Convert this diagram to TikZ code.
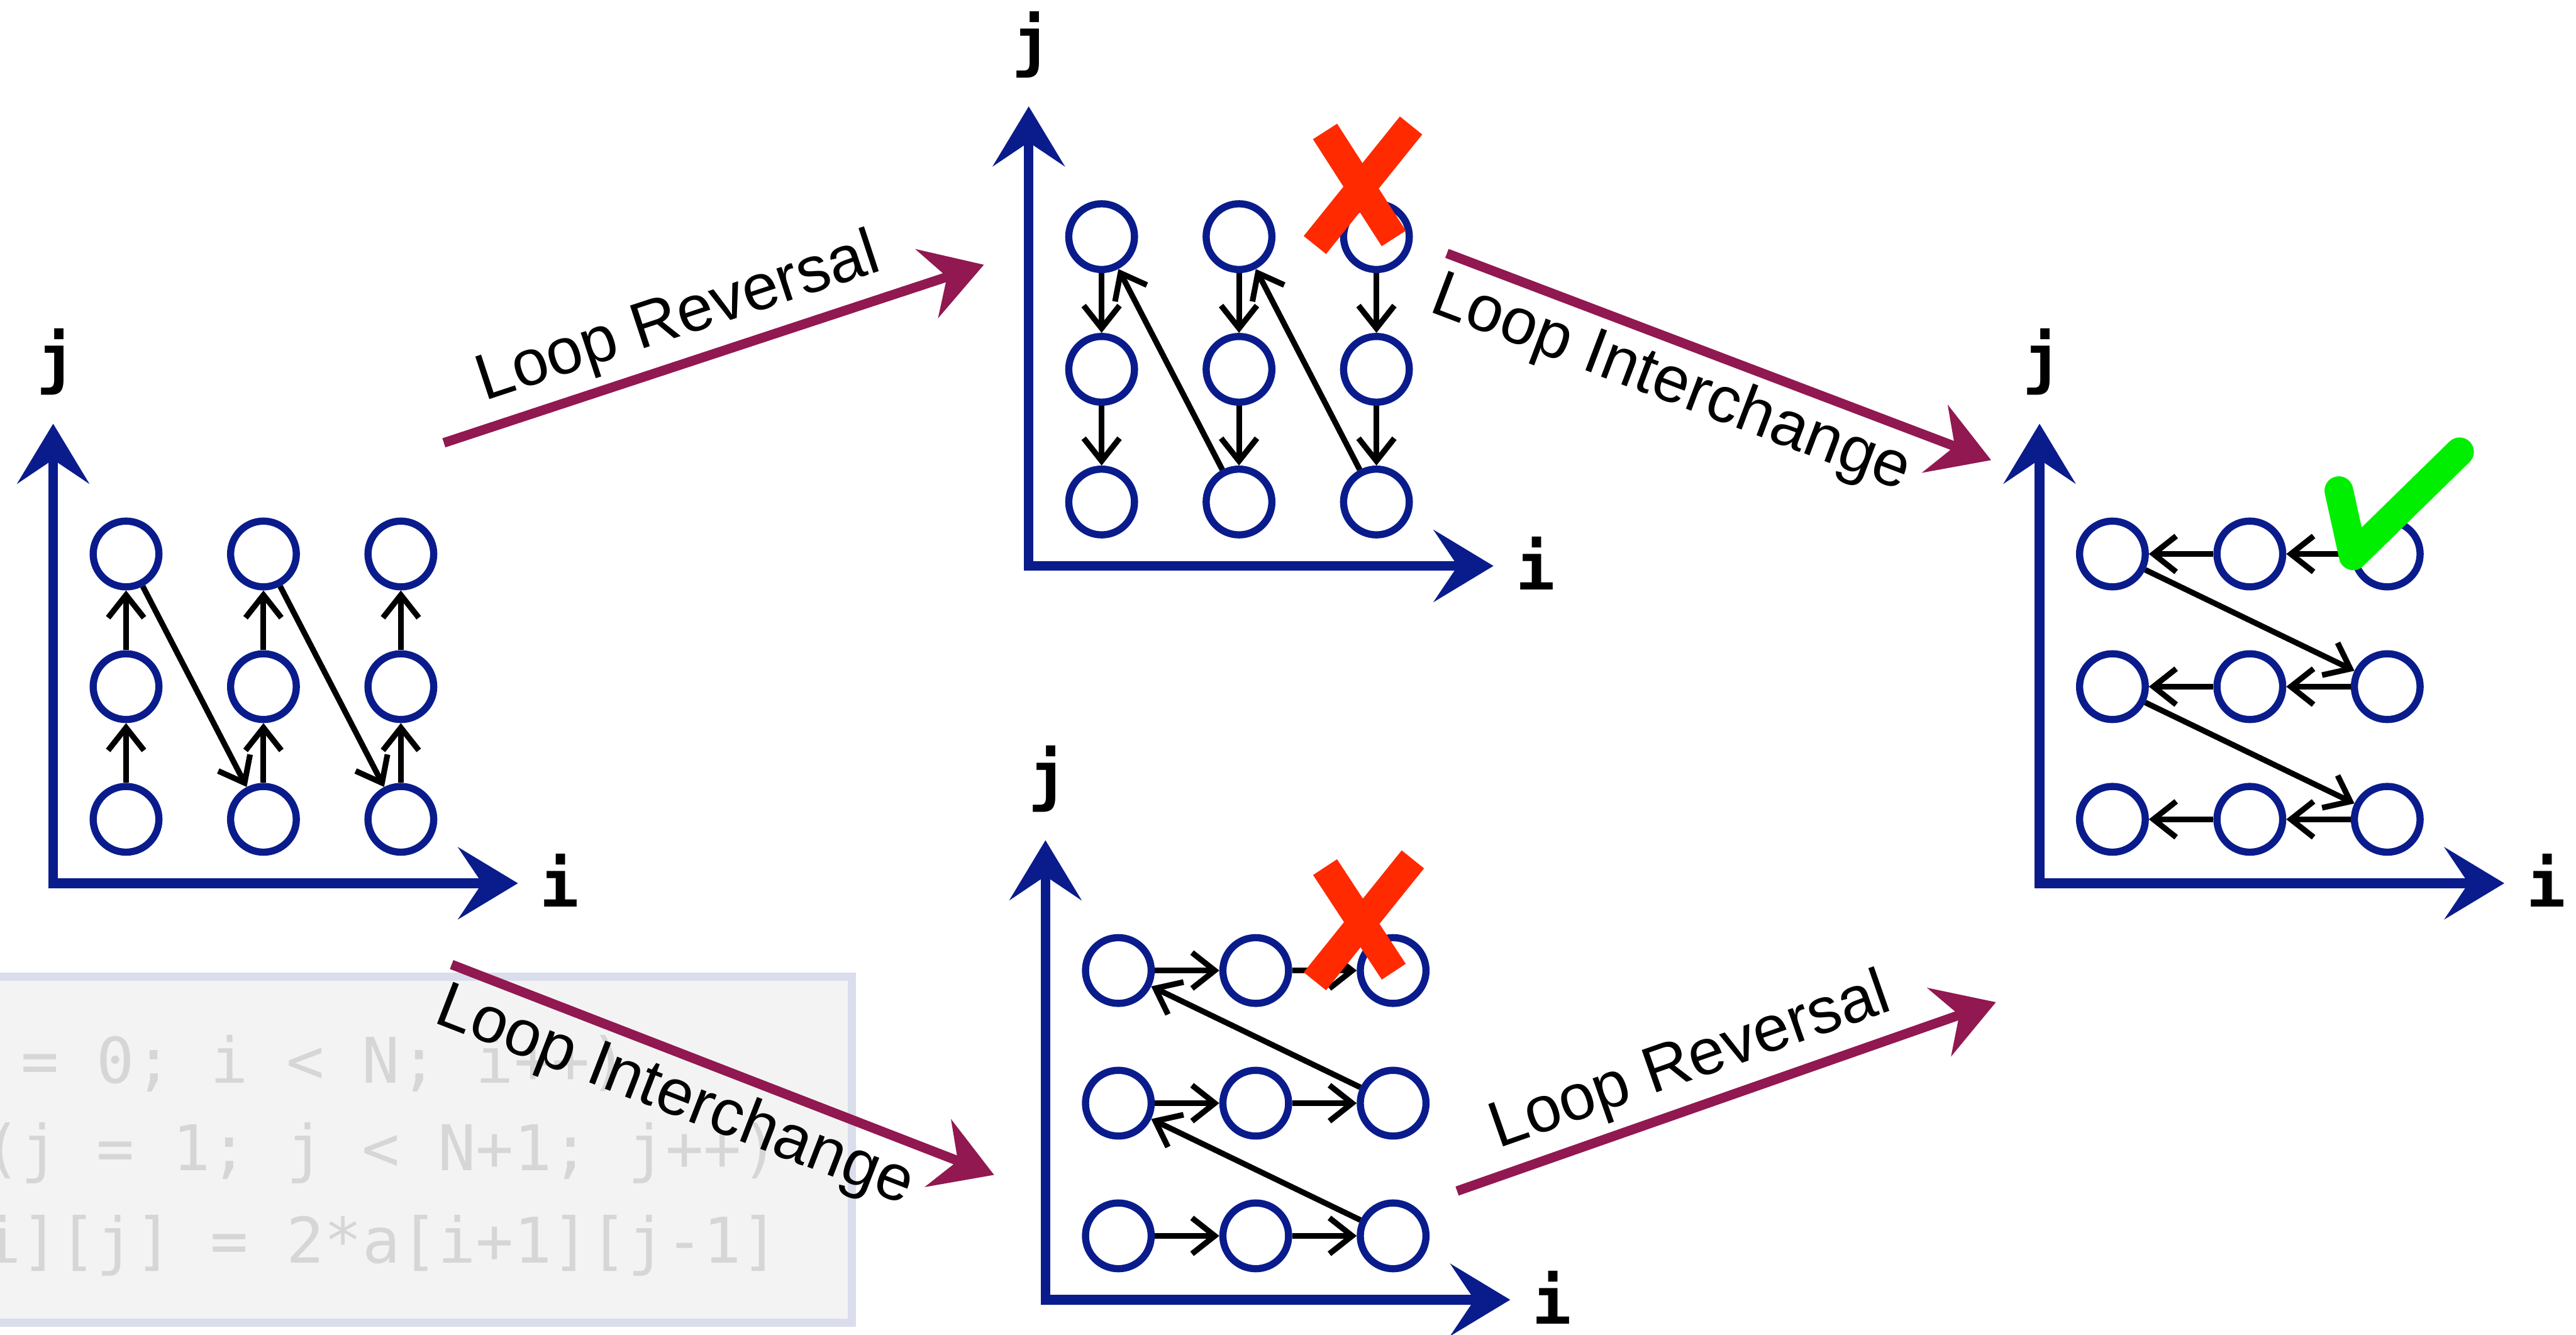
\documentclass[tikz,border=0pt]{standalone}
\usepackage{fontspec}
\setmainfont{Liberation Sans}
\newfontfamily\codefont{DejaVu Sans Mono}
\usetikzlibrary{arrows.meta}
\definecolor{axisblue}{RGB}{10,28,140}
\definecolor{plum}{RGB}{145,24,80}
\definecolor{xred}{RGB}{255,42,0}
\definecolor{okgreen}{RGB}{0,238,0}
\definecolor{boxfill}{RGB}{243,243,243}
\definecolor{boxline}{RGB}{218,221,235}
\definecolor{codegray}{RGB}{214,214,214}
\tikzset{axtip/.tip={Stealth[length=10mm,width=12mm,inset=4mm]}}
\newcommand{\drawGrid}[3]{%
	\coordinate (#1o) at (#2,#3);
	\coordinate (#1y) at (#2,#3+7.69);
	\coordinate (#1x) at (#2+7.78,#3);
	\draw[axis] (#1y) -- (#1o) -- (#1x);
	\node[axlabel] (#1j) at ([shift={(0.05,0.7)}]#1y) {j};
	\node[axlabel] (#1i) at ([shift={(0.7,-0.4)}]#1x) {i};
	\foreach \cc in {1,2,3}{
		\foreach \rr in {1,2,3}{
			\node[cell] (#1\cc\rr) at ({#2+1.22+(\cc-1)*2.3},{#3+1.07+(\rr-1)*2.22}) {};
		}
	}
}

\begin{document}
\begin{tikzpicture}[
		cell/.style={circle,draw=axisblue,line width=1.2mm,minimum size=11mm,inner sep=0pt},
		axis/.style={draw=axisblue,line width=1.6mm,arrows={axtip-axtip}},
		walk/.style={line width=0.95mm,-{Straight Barb[length=3.8mm,width=6mm]}},
		move/.style={draw=plum,line width=1.6mm,-{Stealth[length=10mm,width=12mm,inset=3.5mm]}},
		tag/.style={font=\fontsize{31pt}{37pt}\selectfont,inner sep=4pt},
		axlabel/.style={anchor=base,inner sep=0pt,font=\codefont\bfseries\fontsize{31pt}{37pt}\selectfont},
		nomark/.style={draw=xred,line width=4.8mm},
		okmark/.style={draw=okgreen,line width=4.8mm,line cap=round,line join=round},
		codebox/.style={fill=boxfill,draw=boxline,line width=1.4mm},
		code/.style={anchor=base west,text=codegray,inner sep=0pt,font=\codefont\fontsize{30pt}{36pt}\selectfont}
	]
		\useasboundingbox (0,0) rectangle (43.12,22.33);
		\clip (0,0) rectangle (43.12,22.33);
		
		\draw[codebox] (-0.5,0.2) rectangle (14.26,5.99);
		\node[code] (code1) at (-4.1,4.21) {for (i = 0; i < N; i++)};
		\node[code] (code2) at (-2.83,2.74) {for (j = 1; j < N+1; j++)};
		\node[code] (code3) at (-1.56,1.2) {a[i][j] = 2*a[i+1][j-1]};
		
		\drawGrid{a}{0.89}{7.55}
		\drawGrid{b}{17.22}{12.86}
		\drawGrid{c}{17.5}{0.58}
		\drawGrid{d}{34.14}{7.55}
		
		\foreach \cc in {1,2,3}{
			\draw[walk] (a\cc1) -- (a\cc2);
			\draw[walk] (a\cc2) -- (a\cc3);
			\draw[walk] (b\cc3) -- (b\cc2);
			\draw[walk] (b\cc2) -- (b\cc1);
			\draw[walk] (c1\cc) -- (c2\cc);
			\draw[walk] (c2\cc) -- (c3\cc);
			\draw[walk] (d3\cc) -- (d2\cc);
			\draw[walk] (d2\cc) -- (d1\cc);
		}
		\draw[walk] (a13) -- (a21);
		\draw[walk] (a23) -- (a31);
		\draw[walk] (b21) -- (b13);
		\draw[walk] (b31) -- (b23);
		\draw[walk] (c32) -- (c13);
		\draw[walk] (c31) -- (c12);
		\draw[walk] (d13) -- (d32);
		\draw[walk] (d12) -- (d31);
		
		\coordinate (rev1s) at (7.43,14.92);
		\coordinate (rev1e) at (16.47,17.9);
		\coordinate (int1s) at (24.22,18.09);
		\coordinate (int1e) at (33.33,14.63);
		\coordinate (int2s) at (7.56,6.19);
		\coordinate (int2e) at (16.64,2.67);
		\coordinate (rev2s) at (24.39,2.4);
		\coordinate (rev2e) at (33.41,5.56);
		\draw[move] (rev1s) -- node[tag,above,sloped,pos=0.46] (rev1) {Loop Reversal} (rev1e);
		\draw[move] (int1s) -- node[tag,below,sloped,pos=0.44] (int1) {Loop Interchange} (int1e);
		\draw[move] (int2s) -- node[tag,below,sloped,pos=0.44] (int2) {Loop Interchange} (int2e);
		\draw[move] (rev2s) -- node[tag,above,sloped,pos=0.46] (rev2) {Loop Reversal} (rev2e);
		
		\draw[nomark] (22.18,20.13) -- (23.33,18.34);
		\draw[nomark] (23.62,20.23) -- (22.01,18.23);
		\draw[nomark] (22.18,7.82) -- (23.33,6.07);
		\draw[nomark] (23.65,7.95) -- (22.01,5.91);
		\draw[okmark] (39.15,14.12) -- (39.39,13.03) -- (41.17,14.77);
	\end{tikzpicture}
\end{document}
